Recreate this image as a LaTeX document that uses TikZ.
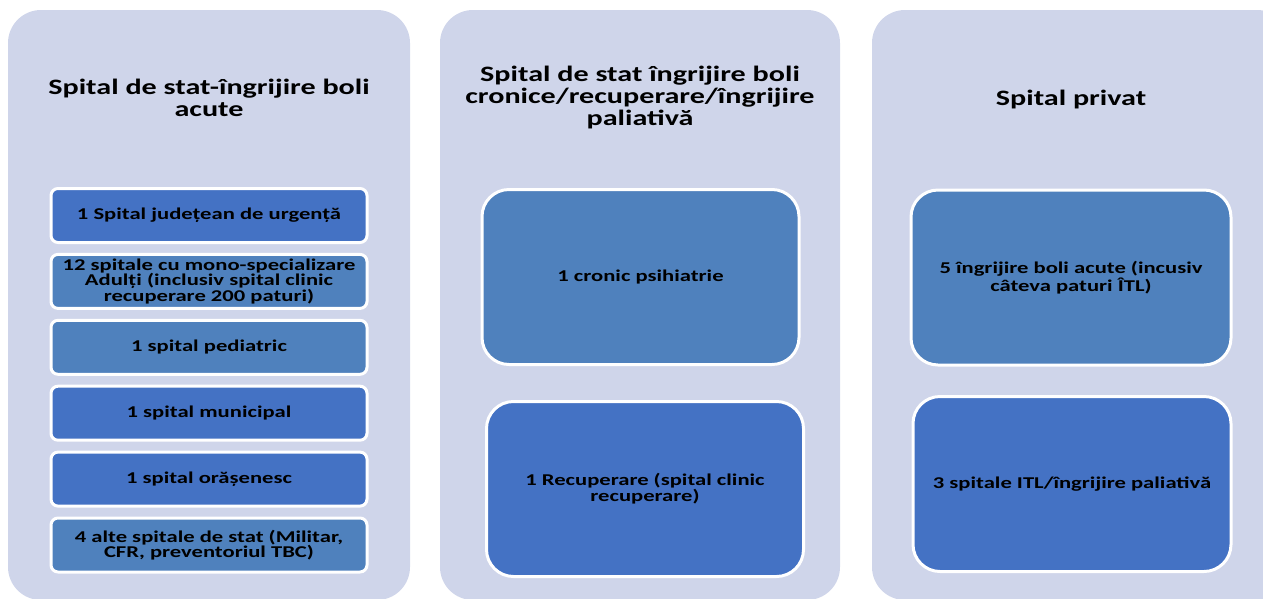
\documentclass[tikz,border=0pt]{standalone}
\usepackage{fontspec}
\setmainfont{Carlito}[FakeStretch=1.37]
\usetikzlibrary{positioning}
\definecolor{panelbg}{HTML}{CFD5EA}
\definecolor{darkblue}{HTML}{4472C4}
\definecolor{steelblue}{HTML}{4F81BD}

\begin{document}
\begin{tikzpicture}[
    x=1pt, y=-1pt,
    panel/.style={fill=panelbg, rounded corners=33pt},
    headtext/.style={align=center, font=\bfseries\fontsize{22}{22}\selectfont},
    smallbox/.style={draw=white, line width=3pt, rounded corners=7pt,
      minimum width=316pt, minimum height=54pt, align=center,
      font=\bfseries\fontsize{16.5}{15.5}\selectfont},
    bigbox/.style={draw=white, line width=3pt, rounded corners=27pt,
      minimum width=317pt, minimum height=175pt, align=center,
      font=\bfseries\fontsize{16.5}{16}\selectfont}
]

\def\boxgap{65.9}

\useasboundingbox (0,0) rectangle (1263,598);

% three columns
\fill[panel] (8,10) rectangle (410,600);
\fill[panel] (440,10) rectangle (840,600);
\fill[panel] (872,10) rectangle (1290,600);

\node[headtext] (acutehead) at (209,97.5) {Spital de stat-îngrijire boli\\acute};
\node[headtext] (chronichead) at (640,98) {Spital de stat îngrijire boli\\cronice/recuperare/îngrijire\\paliativă};
\node[headtext] (privatehead) at (1071,100) {Spital privat};

\foreach \txt/\col [count=\n from 0] in {
  {1 Spital județean de urgență}/darkblue,
  {12 spitale cu mono-specializare\\Adulți (inclusiv spital clinic\\recuperare 200 paturi)}/steelblue,
  {1 spital pediatric}/steelblue,
  {1 spital municipal}/darkblue,
  {1 spital orășenesc}/darkblue,
  {4 alte spitale de stat (Militar,\\CFR, preventoriul TBC)}/steelblue} {
  \node[smallbox, fill=\col] (acute\n) at (209,{215.5+\n*\boxgap}) {\txt};
}

\node[bigbox, fill=steelblue] (chronic1) at (640.5,277) {1 cronic psihiatrie};
\node[bigbox, fill=darkblue] (chronic2) at (645,489) {1 Recuperare (spital clinic\\recuperare)};

\node[bigbox, fill=steelblue, minimum width=320pt] (private1) at (1071,277.5) {5 îngrijire boli acute (incusiv\\câteva paturi ÎTL)};
\node[bigbox, fill=darkblue, minimum width=318pt] (private2) at (1072,484) {3 spitale ITL/îngrijire paliativă};

\end{tikzpicture}
\end{document}
